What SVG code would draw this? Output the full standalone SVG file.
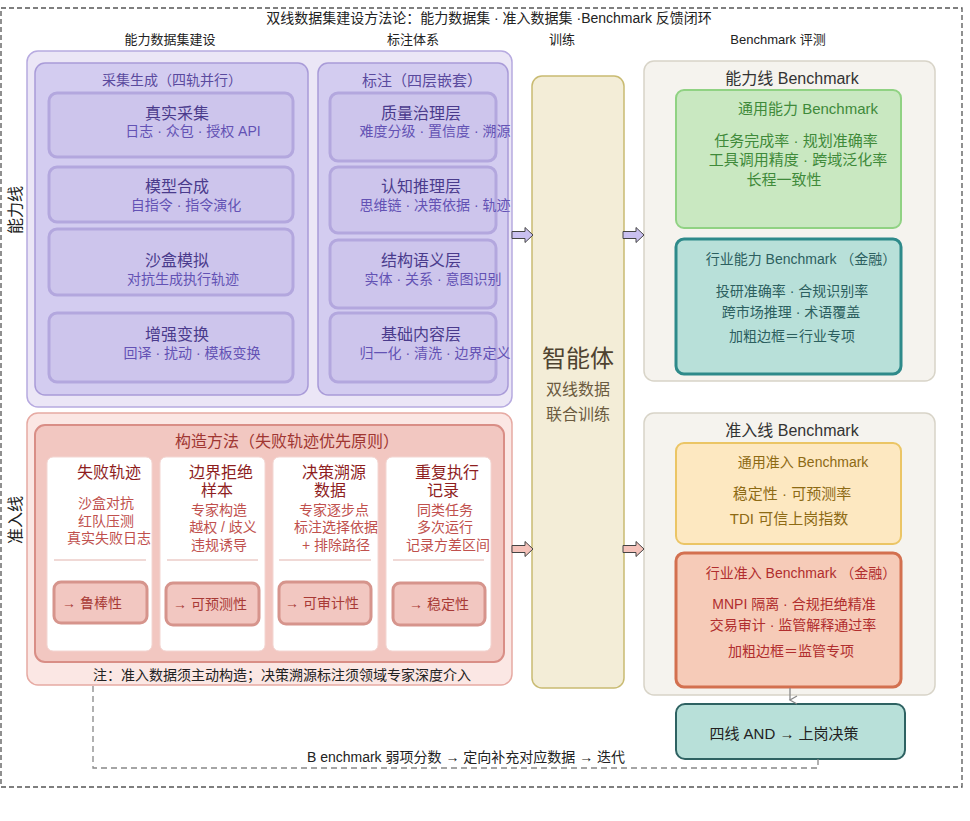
<svg xmlns="http://www.w3.org/2000/svg" width="970" height="821" viewBox="0 0 970 821">
<style>
text{font-family:"Liberation Sans","Noto Sans CJK SC",sans-serif;text-anchor:middle;dominant-baseline:central}
.hdr{font-size:13px;fill:#222}
.lav-out{fill:#ebe6f6;stroke:#b7aae0;stroke-width:1.5}
.lav-in{fill:#d3ccf0;stroke:#a99bd8;stroke-width:1.5}
.lav-box{fill:#cdc5ec;stroke:#b3a7de;stroke-width:3}
.lav-t{font-size:16px;fill:#4a3b8c}
.lav-s{font-size:14px;fill:#6352b4}
.lav-h{font-size:14px;fill:#5a4a9e}
.pk-out{fill:#fbe7e4;stroke:#e6aaa3;stroke-width:1.5}
.pk-in{fill:#f2c7c1;stroke:#d98e86;stroke-width:2}
.card{fill:#ffffff;stroke:#f3d6d2;stroke-width:1}
.btn{fill:#f2c7c1;stroke:#d6948c;stroke-width:3}
.ct{font-size:16px;fill:#8e1e1e}
.cs{font-size:14px;fill:#c0504d}
.bt{font-size:14px;fill:#a83a36}
.sep{stroke:#e2b3ad;stroke-width:1}
.bm-out{fill:#f5f3ee;stroke:#d8d4c8;stroke-width:1.5}
.bm-h{font-size:16px;fill:#333}
.conn{fill:none;stroke:#888;stroke-width:1.3}
</style>
<defs>
<marker id="vhead" markerWidth="10" markerHeight="10" refX="5" refY="8" orient="auto" markerUnits="userSpaceOnUse">
<path d="M1,1 L5,8 L9,1" fill="none" stroke="#888" stroke-width="1.3"/>
</marker>
</defs>

<!-- outer frame -->
<g id="frame">
<rect x="1" y="8" width="961" height="779" fill="none" stroke="#555" stroke-width="1.3" stroke-dasharray="5 3"/>
<text x="489" y="18" style="font-size:14px;fill:#222">双线数据集建设方法论：能力数据集 · 准入数据集 ·Benchmark 反馈闭环</text>
<text class="hdr" x="170" y="39">能力数据集建设</text>
<text class="hdr" x="413" y="39">标注体系</text>
<text class="hdr" x="562" y="39">训练</text>
<text class="hdr" x="778" y="39">Benchmark 评测</text>
<text x="15" y="210" transform="rotate(-90 15 210)" style="font-size:16px;fill:#222">能力线</text>
<text x="15" y="520" transform="rotate(-90 15 520)" style="font-size:16px;fill:#222">准入线</text>
</g>

<!-- capability line -->
<g id="cap-line">
<rect class="lav-out" x="27" y="51" width="485" height="356" rx="11"/>
</g>
<g id="collect">
<rect class="lav-in" x="35" y="63" width="273" height="332" rx="10"/>
<text class="lav-h" x="172" y="80">采集生成（四轨并行）</text>
</g>
<g id="real-collect">
<rect class="lav-box" x="49" y="93" width="244" height="64" rx="8"/>
<text class="lav-t" x="177" y="113">真实采集</text>
<text class="lav-s" x="193" y="131">日志 · 众包 · 授权 API</text>
</g>
<g id="model-synth">
<rect class="lav-box" x="49" y="167" width="244" height="55" rx="8"/>
<text class="lav-t" x="177" y="186">模型合成</text>
<text class="lav-s" x="186" y="205">自指令 · 指令演化</text>
</g>
<g id="sandbox">
<rect class="lav-box" x="49" y="229" width="244" height="66" rx="8"/>
<text class="lav-t" x="177" y="260">沙盒模拟</text>
<text class="lav-s" x="183" y="279">对抗生成执行轨迹</text>
</g>
<g id="augment">
<rect class="lav-box" x="49" y="313" width="244" height="69" rx="8"/>
<text class="lav-t" x="177" y="334">增强变换</text>
<text class="lav-s" x="192" y="353">回译 · 扰动 · 模板变换</text>
</g>

<g id="annotate">
<rect class="lav-in" x="318" y="63" width="190" height="332" rx="10"/>
<text x="422" y="80" style="font-size:15px;fill:#5a4a9e">标注（四层嵌套）</text>
</g>
<g id="layer-quality">
<rect class="lav-box" x="330" y="93" width="166" height="68" rx="8"/>
<text class="lav-t" x="421" y="113">质量治理层</text>
<text class="lav-s" x="435" y="131">难度分级 · 置信度 · 溯源</text>
</g>
<g id="layer-cognitive">
<rect class="lav-box" x="330" y="167" width="166" height="66" rx="8"/>
<text class="lav-t" x="421" y="186">认知推理层</text>
<text class="lav-s" x="435" y="205">思维链 · 决策依据 · 轨迹</text>
</g>
<g id="layer-struct">
<rect class="lav-box" x="330" y="240" width="166" height="68" rx="8"/>
<text class="lav-t" x="421" y="260">结构语义层</text>
<text class="lav-s" x="433" y="279">实体 · 关系 · 意图识别</text>
</g>
<g id="layer-base">
<rect class="lav-box" x="330" y="313" width="166" height="69" rx="8"/>
<text class="lav-t" x="421" y="334">基础内容层</text>
<text class="lav-s" x="435" y="353">归一化 · 清洗 · 边界定义</text>
</g>

<!-- admission line -->
<g id="adm-line">
<rect class="pk-out" x="27" y="413" width="485" height="272" rx="11"/>
<text x="282" y="675" style="font-size:14px;fill:#222">注：准入数据须主动构造；决策溯源标注须领域专家深度介入</text>
</g>
<g id="construct">
<rect class="pk-in" x="35" y="425" width="469" height="237" rx="10"/>
<text x="287" y="441" style="font-size:16px;fill:#a03632">构造方法（失败轨迹优先原则）</text>
</g>
<g id="card-fail">
<rect class="card" x="47" y="457" width="105" height="194" rx="6"/>
<text class="ct" x="109" y="472">失败轨迹</text>
<text class="cs" x="106" y="503">沙盒对抗</text>
<text class="cs" x="106" y="521">红队压测</text>
<text class="cs" x="109" y="538">真实失败日志</text>
<line class="sep" x1="54" y1="560" x2="146" y2="560"/>
<rect class="btn" x="54" y="582" width="93" height="41" rx="7"/>
<text class="bt" x="92" y="603">→  鲁棒性</text>
</g>
<g id="card-reject">
<rect class="card" x="160" y="457" width="105" height="194" rx="6"/>
<text class="ct" x="221" y="472">边界拒绝</text>
<text class="ct" x="217" y="490">样本</text>
<text class="cs" x="219" y="510">专家构造</text>
<text class="cs" x="223" y="527">越权 / 歧义</text>
<text class="cs" x="219" y="545">违规诱导</text>
<line class="sep" x1="167" y1="560" x2="258" y2="560"/>
<rect class="btn" x="166" y="583" width="93" height="42" rx="7"/>
<text class="bt" x="210" y="604">→  可预测性</text>
</g>
<g id="card-trace">
<rect class="card" x="273" y="457" width="105" height="194" rx="6"/>
<text class="ct" x="334" y="472">决策溯源</text>
<text class="ct" x="330" y="490">数据</text>
<text class="cs" x="334" y="510">专家逐步点</text>
<text class="cs" x="336" y="527">标注选择依据</text>
<text class="cs" x="336" y="545">+ 排除路径</text>
<line class="sep" x1="279" y1="560" x2="371" y2="560"/>
<rect class="btn" x="279" y="582" width="92" height="42" rx="7"/>
<text class="bt" x="322" y="603">→  可审计性</text>
</g>
<g id="card-repeat">
<rect class="card" x="386" y="457" width="105" height="194" rx="6"/>
<text class="ct" x="447" y="472">重复执行</text>
<text class="ct" x="443" y="490">记录</text>
<text class="cs" x="445" y="510">同类任务</text>
<text class="cs" x="445" y="527">多次运行</text>
<text class="cs" x="448" y="545">记录方差区间</text>
<line class="sep" x1="393" y1="560" x2="484" y2="560"/>
<rect class="btn" x="393" y="583" width="92" height="42" rx="7"/>
<text class="bt" x="439" y="604">→  稳定性</text>
</g>

<!-- training -->
<g id="agent">
<rect x="532" y="76" width="92" height="612" rx="10" fill="#f3edd7" stroke="#c9bb72" stroke-width="1.5"/>
<text x="578" y="358" style="font-size:24px;fill:#4f4330">智能体</text>
<text x="578" y="389" style="font-size:16px;fill:#6b5b40">双线数据</text>
<text x="578" y="414" style="font-size:16px;fill:#6b5b40">联合训练</text>
</g>

<!-- benchmarks -->
<g id="cap-bench">
<rect class="bm-out" x="644" y="61" width="291" height="320" rx="10"/>
<text class="bm-h" x="792" y="78">能力线 Benchmark</text>
</g>
<g id="gen-cap">
<rect x="676" y="90" width="225" height="138" rx="8" fill="#c9e8c1" stroke="#90d283" stroke-width="2"/>
<text x="808" y="108" style="font-size:15px;fill:#3f8a3a">通用能力 Benchmark</text>
<text x="796" y="140" style="font-size:15px;fill:#3f8a3a">任务完成率 · 规划准确率</text>
<text x="798" y="159" style="font-size:15px;fill:#3f8a3a">工具调用精度 · 跨域泛化率</text>
<text x="784" y="179" style="font-size:15px;fill:#3f8a3a">长程一致性</text>
</g>
<g id="ind-cap">
<rect x="676" y="239" width="225" height="135" rx="8" fill="#b8e0d9" stroke="#2e8a8a" stroke-width="3"/>
<text x="801" y="259" style="font-size:14px;fill:#2c5f5f">行业能力  Benchmark （金融）</text>
<text x="792" y="291" style="font-size:14px;fill:#2c5f5f">投研准确率 · 合规识别率</text>
<text x="791" y="312" style="font-size:14px;fill:#2c5f5f">跨市场推理 · 术语覆盖</text>
<text x="792" y="336" style="font-size:14px;fill:#2c5f5f">加粗边框＝行业专项</text>
</g>
<g id="adm-bench">
<rect class="bm-out" x="644" y="413" width="291" height="282" rx="10"/>
<text class="bm-h" x="792" y="430">准入线 Benchmark</text>
</g>
<g id="gen-adm">
<rect x="676" y="443" width="225" height="101" rx="8" fill="#fde8c1" stroke="#ebc565" stroke-width="2"/>
<text x="803" y="462" style="font-size:14px;fill:#8d6a14">通用准入  Benchmark</text>
<text x="792" y="493" style="font-size:15px;fill:#8d6a14">稳定性 · 可预测率</text>
<text x="789" y="518" style="font-size:15px;fill:#8d6a14">TDI 可信上岗指数</text>
</g>
<g id="ind-adm">
<rect x="676" y="553" width="225" height="134" rx="8" fill="#f6cbb8" stroke="#d3704f" stroke-width="3"/>
<text x="801" y="573" style="font-size:14px;fill:#b12e2e">行业准入  Benchmark （金融）</text>
<text x="794" y="604" style="font-size:14px;fill:#b12e2e">MNPI 隔离 · 合规拒绝精准</text>
<text x="793" y="625" style="font-size:14px;fill:#b12e2e">交易审计 · 监管解释通过率</text>
<text x="791" y="651" style="font-size:14px;fill:#b12e2e">加粗边框＝监管专项</text>
</g>
<g id="decision">
<rect x="676" y="704" width="229" height="55" rx="9" fill="#b8e0d9" stroke="#2e6262" stroke-width="2"/>
<text x="784" y="733" style="font-size:15px;fill:#222">四线 AND → 上岗决策</text>
</g>

<!-- connectors -->
<g id="connectors">
<polygon points="512,231.5 525,231.5 525,227.5 533,235 525,242.5 525,238.5 512,238.5" fill="#c9c0f0" stroke="#444" stroke-width="1"/>
<polygon points="623,231.5 636,231.5 636,227.5 644,235 636,242.5 636,238.5 623,238.5" fill="#c9c0f0" stroke="#444" stroke-width="1"/>
<polygon points="512,545.5 525,545.5 525,541.5 533,549 525,556.5 525,552.5 512,552.5" fill="#f4c2ba" stroke="#444" stroke-width="1"/>
<polygon points="623,545.5 636,545.5 636,541.5 644,549 636,556.5 636,552.5 623,552.5" fill="#f4c2ba" stroke="#444" stroke-width="1"/>
<path class="conn" d="M790,688 L790,700" marker-end="url(#vhead)"/>
<path class="conn" d="M818,759 L818,768 L93,768 L93,686" stroke-dasharray="6 4"/>
<text x="466" y="757" style="font-size:14px;fill:#222">B enchmark 弱项分数  →  定向补充对应数据  →  迭代</text>
</g>
</svg>
